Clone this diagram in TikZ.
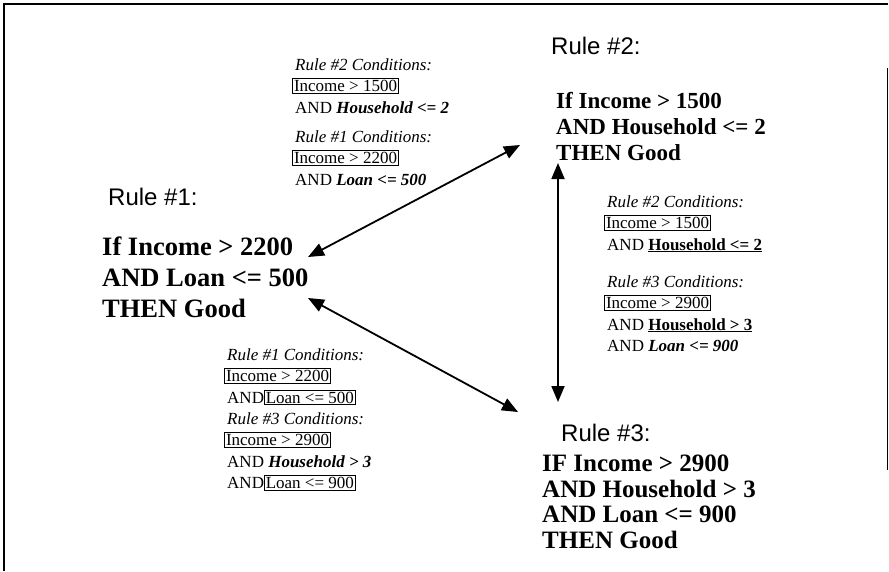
\documentclass[tikz,border=0pt]{standalone}
\usepackage{fontspec}
\setmainfont{Liberation Serif}
\newfontfamily\hdrfont{Liberation Sans}
\usetikzlibrary{arrows.meta}
\newcommand\cbox[1]{{\setlength\fboxsep{1pt}\setlength\fboxrule{0.8pt}\fbox{#1}}}
\newcommand\ubf[1]{\textbf{\underline{#1}}}
\newcommand\bif[1]{\textbf{\textit{#1}}}
\begin{document}
\begin{tikzpicture}[x=1pt,y=-1pt,
  hdr/.style={anchor=west,inner sep=0pt,font=\hdrfont\fontsize{24}{28}\selectfont},
  rulebig/.style={anchor=north west,inner sep=0pt,align=left,font=\bfseries\fontsize{26.5}{31}\selectfont},
  cond/.style={anchor=north west,inner sep=0pt,align=left,font=\fontsize{17}{21.5}\selectfont},
  link/.style={line width=1.8pt,{Triangle[length=16pt,width=13pt]}-{Triangle[length=16pt,width=13pt]}},
  frame/.style={line width=1.6pt}]
\useasboundingbox (0,0) rectangle (889,571);
% frame
\draw[frame] (4,571) -- (4,4) -- (888,4);
\draw[line width=1pt] (887,68) -- (887,470);
% headers
\node[hdr] (h1) at (108,197) {Rule \#1:};
\node[hdr] (h2) at (551,46) {Rule \#2:};
\node[hdr] (h3) at (561,433) {Rule \#3:};
% rules
\node[rulebig] (r1) at (102,237) {If Income > 2200\\AND Loan <= 500\\THEN Good};
\node[rulebig,font=\bfseries\fontsize{23}{26}\selectfont] (r2) at (556,92) {If Income > 1500\\AND Household <= 2\\THEN Good};
\node[rulebig,font=\bfseries\fontsize{25}{25.5}\selectfont] (r3) at (542,455) {IF Income > 2900\\AND Household > 3\\AND Loan <= 900\\THEN Good};
% condition groups
\node[cond] (tl1) at (292,58) {\hspace*{3pt}\textit{Rule \#2 Conditions:}\\\cbox{Income > 1500}\\\hspace*{3pt}AND \bif{Household <= 2}};
\node[cond] (tl2) at (292,130) {\hspace*{3pt}\textit{Rule \#1 Conditions:}\\\cbox{Income > 2200}\\\hspace*{3pt}AND \bif{Loan <= 500}};
\node[cond] (rc1) at (604,195) {\hspace*{3pt}\textit{Rule \#2 Conditions:}\\\cbox{Income > 1500}\\\hspace*{3pt}AND \ubf{Household <= 2}};
\node[cond] (rc2) at (604,275) {\hspace*{3pt}\textit{Rule \#3 Conditions:}\\\cbox{Income > 2900}\\\hspace*{3pt}AND \ubf{Household > 3}\\\hspace*{3pt}AND \bif{Loan <= 900}};
\node[cond] (bl1) at (224,348) {\hspace*{3pt}\textit{Rule \#1 Conditions:}\\\cbox{Income > 2200}\\\hspace*{3pt}AND\cbox{Loan <= 500}};
\node[cond] (bl2) at (224,412) {\hspace*{3pt}\textit{Rule \#3 Conditions:}\\\cbox{Income > 2900}\\\hspace*{3pt}AND \bif{Household > 3}\\\hspace*{3pt}AND\cbox{Loan <= 900}};
% connectors
\coordinate (a12s) at (308,257);
\coordinate (a12e) at (520,145);
\coordinate (a13s) at (308,298);
\coordinate (a13e) at (518,412);
\coordinate (a23s) at (558,163);
\coordinate (a23e) at (558,402);
\draw[link] (a12s) -- (a12e);
\draw[link] (a13s) -- (a13e);
\draw[link] (a23s) -- (a23e);
\end{tikzpicture}
\end{document}
